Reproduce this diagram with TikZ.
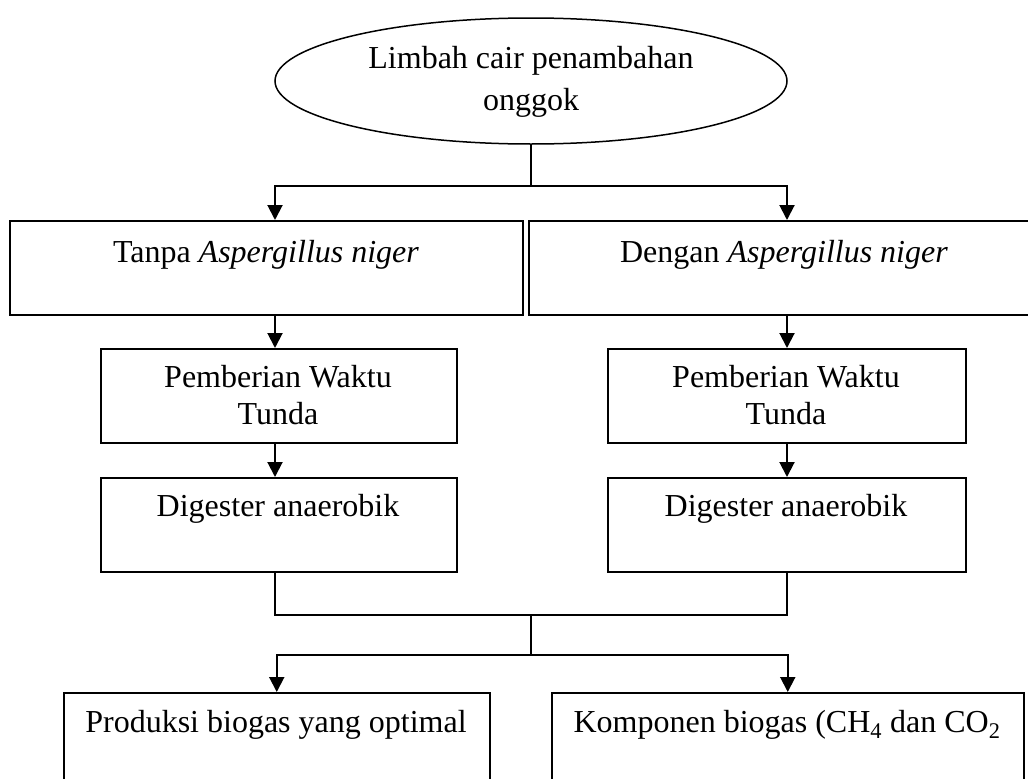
\documentclass[tikz,border=0pt]{standalone}
\usepackage{fontspec}
\setmainfont{Liberation Serif}
\usetikzlibrary{arrows.meta,shapes.geometric}
\begin{document}
\begin{tikzpicture}[x=1pt,y=-1pt,
  box/.style={draw, line width=1.5pt, rectangle, anchor=north west, inner sep=0pt},
  ell/.style={draw, line width=1.5pt, ellipse, inner sep=0pt, minimum width=512pt, minimum height=126pt},
  txt/.style={anchor=base, inner sep=0pt, font=\fontsize{32}{37}\selectfont},
  conn/.style={line width=2pt},
  arr/.style={conn, -{Triangle[width=15pt,length=15pt]}}]
\useasboundingbox (0,0) rectangle (1028,779);
\clip (0,0) rectangle (1028,779);
\fill[white] (0,0) rectangle (1028,779);

% nodes
\node[ell] (e) at (531,81) {};
\node[txt] (et) at (531,68) {\begin{tabular}[t]{@{}c@{}}Limbah cair penambahan\\[5pt]onggok\end{tabular}};

\node[box, minimum width=513pt, minimum height=94pt] (b1) at (9,220) {};
\node[txt] (t1) at (266,262) {Tanpa \textit{Aspergillus niger}};
\node[box, minimum width=512pt, minimum height=94pt] (b2) at (528,220) {};
\node[txt] (t2) at (784,262) {Dengan \textit{Aspergillus niger}};

\node[box, minimum width=356pt, minimum height=94pt] (b3) at (100,348) {};
\node[txt] (t3) at (278,387) {\begin{tabular}[t]{@{}c@{}}Pemberian Waktu\\Tunda\end{tabular}};
\node[box, minimum width=358pt, minimum height=94pt] (b4) at (607,348) {};
\node[txt] (t4) at (786,387) {\begin{tabular}[t]{@{}c@{}}Pemberian Waktu\\Tunda\end{tabular}};

\node[box, minimum width=356pt, minimum height=94pt] (b5) at (100,477) {};
\node[txt] (t5) at (278,516) {Digester anaerobik};
\node[box, minimum width=358pt, minimum height=94pt] (b6) at (607,477) {};
\node[txt] (t6) at (786,516) {Digester anaerobik};

\node[box, minimum width=426pt, minimum height=130pt] (b7) at (63,692) {};
\node[txt] (t7) at (276,732) {Produksi biogas yang optimal};
\node[box, minimum width=472pt, minimum height=130pt] (b8) at (551,692) {};
\node[txt] (t8) at (787,732) {Komponen biogas (CH\textsubscript{4} dan CO\textsubscript{2}};

% junction coordinates
\coordinate (jTop) at (531,186);
\coordinate (cL) at (275,0);
\coordinate (cR) at (787,0);
\coordinate (m1) at (531,615);
\coordinate (m2) at (531,655);

% connectors
\draw[conn] (e.south) -- (jTop);
\draw[arr] (jTop) -| (b1.north -| cL);
\draw[arr] (jTop) -| (b2.north -| cR);
\draw[arr] (b1.south -| cL) -- (b3.north -| cL);
\draw[arr] (b2.south -| cR) -- (b4.north -| cR);
\draw[arr] (b3.south -| cL) -- (b5.north -| cL);
\draw[arr] (b4.south -| cR) -- (b6.north -| cR);
\draw[conn] (b5.south -| cL) -- (cL |- m1) -- (cR |- m1) -- (b6.south -| cR);
\draw[conn] (m1) -- (m2);
\draw[arr] (m2) -| (b7.north);
\draw[arr] (m2) -| (b8.north);
\end{tikzpicture}
\end{document}
